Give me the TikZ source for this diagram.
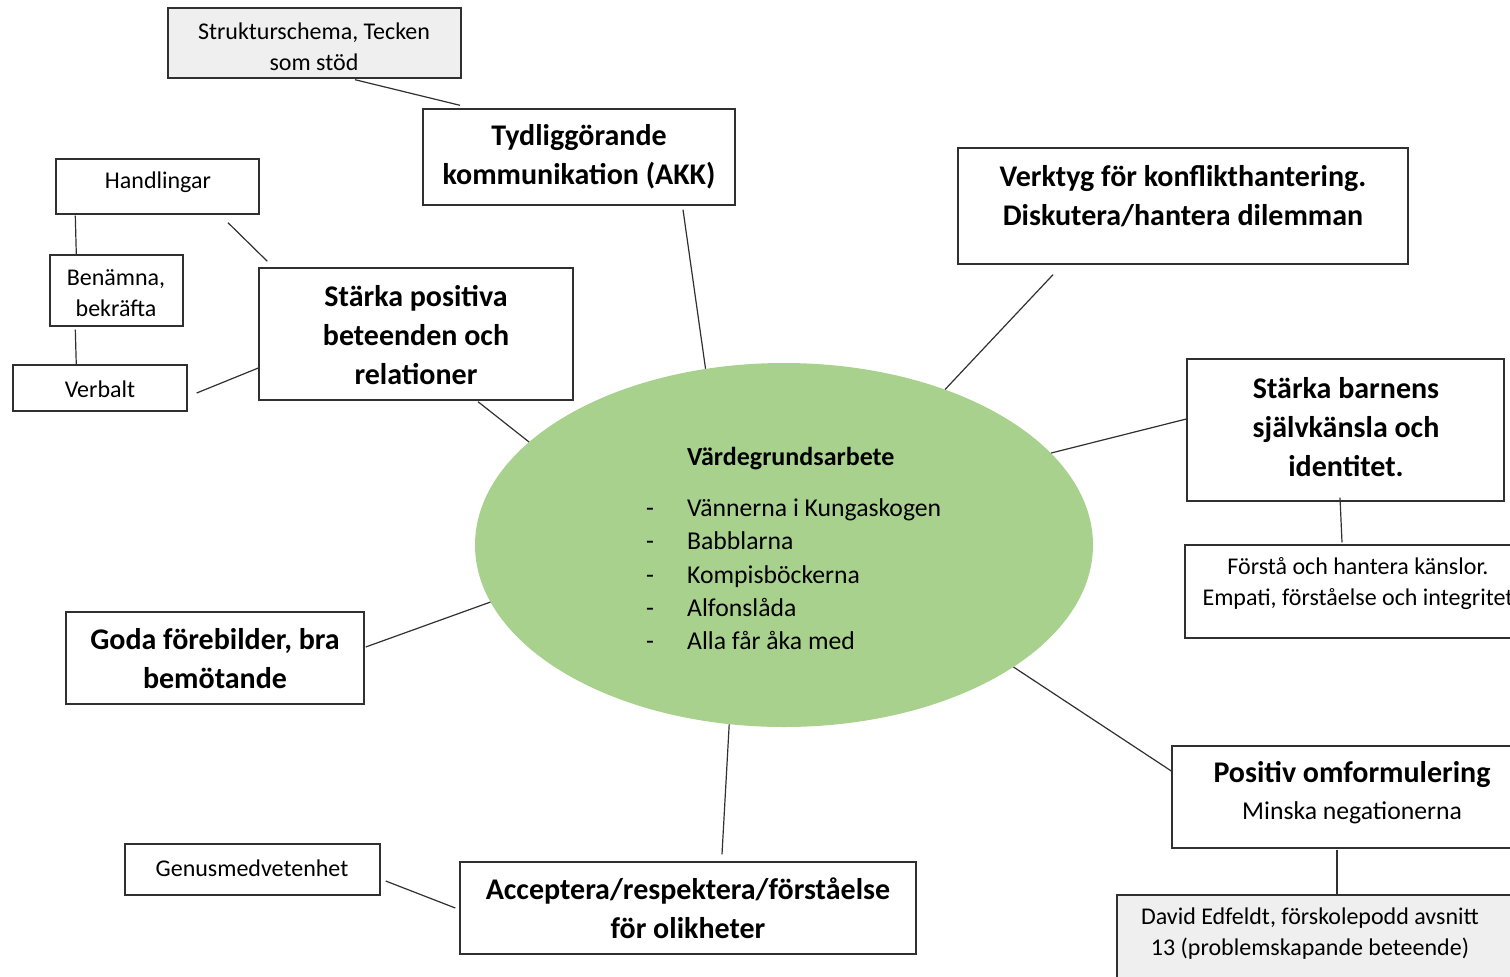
\documentclass[tikz,border=0pt]{standalone}
\usepackage{fontspec}
\setmainfont{Carlito}
\usetikzlibrary{calc,shapes.geometric}
\definecolor{ellgreen}{HTML}{A9D18E}
\definecolor{boxgray}{HTML}{EFEFEF}
\definecolor{edgecol}{HTML}{303030}
\begin{document}
\begin{tikzpicture}[x=1pt,y=-1pt,
  box/.style={draw=edgecol, line width=1.4pt, fill=white, inner sep=0pt},
  graybox/.style={box, fill=boxgray},
  ttl/.style={font=\fontsize{30}{39}\selectfont\bfseries, align=center, inner sep=0pt},
  sml/.style={font=\fontsize{24}{31}\selectfont, align=center, inner sep=0pt},
  conn/.style={draw=edgecol, line width=1.2pt}]
\useasboundingbox (0,0) rectangle (1510,977);
\clip (0,0) rectangle (1510,977);

% central ellipse
\node[ellipse, fill=ellgreen, minimum width=618pt, minimum height=364pt, inner sep=0pt] (ell) at (784,545) {};
\node[inner sep=0pt, anchor=north west] (list) at (646,442) {\fontsize{25.7}{33.2}\selectfont
  \begin{tabular}{@{}p{41pt}@{}l@{}}
  & {\fontsize{26}{33}\selectfont\bfseries Värdegrundsarbete}\\[18pt]
  - & Vännerna i Kungaskogen\\
  - & Babblarna\\
  - & Kompisböckerna\\
  - & Alfonslåda\\
  - & Alla får åka med
  \end{tabular}};

% boxes
\node[graybox, minimum width=293pt, minimum height=70pt] (strk) at (314.5,43) {};
\node[sml] (strkt) at (314,47) {Strukturschema, Tecken\\som stöd};

\node[box, minimum width=312pt, minimum height=96pt] (tyd) at (579,157) {};
\node[ttl] (tydt) at (579,157) {Tydliggörande\\kommunikation (AKK)};

\node[box, minimum width=450pt, minimum height=116pt] (verk) at (1183,206) {};
\node[ttl] (verkt) at (1183,196) {Verktyg för konflikthantering.\\Diskutera/hantera dilemman};

\node[box, minimum width=203pt, minimum height=55pt] (hand) at (157.5,186.5) {};
\node[sml] (handt) at (158,182) {Handlingar};

\node[box, minimum width=133pt, minimum height=71pt] (ben) at (116.5,290.5) {};
\node[sml] (bent) at (116,293) {Benämna,\\bekräfta};

\node[box, minimum width=174pt, minimum height=46pt] (verb) at (100,388) {};
\node[sml] (verbt) at (100,389) {Verbalt};

\node[box, minimum width=314pt, minimum height=132pt] (pos) at (416,334) {};
\node[ttl] (post) at (416,335) {Stärka positiva\\beteenden och\\relationer};

\node[box, minimum width=317pt, minimum height=142pt] (barn) at (1345.5,430) {};
\node[ttl] (barnt) at (1346,427) {Stärka barnens\\självkänsla och\\identitet.};

\node[box, minimum width=346pt, minimum height=93pt] (forst) at (1358,591.5) {};
\node[sml] (forstt) at (1358,584) {Förstå och hantera känslor.\\Empati, förståelse och integritet};

\node[box, minimum width=298pt, minimum height=92pt] (goda) at (215,658) {};
\node[ttl] (godat) at (215,659) {Goda förebilder, bra\\bemötande};

\node[box, minimum width=360pt, minimum height=102pt] (posit) at (1352,797) {};
\node[align=center, inner sep=0pt, font=\fontsize{25.7}{37}\selectfont] (positt) at (1352,793)
  {{\fontsize{30}{37}\selectfont\bfseries Positiv omformulering}\\Minska negationerna};

\node[graybox, minimum width=403pt, minimum height=95pt] (david) at (1318.5,942.5) {};
\node[sml] (davidt) at (1310,934) {David Edfeldt, förskolepodd avsnitt\\13 (problemskapande beteende)};

\node[box, minimum width=255pt, minimum height=51pt] (genus) at (252.5,869.5) {};
\node[sml] (genust) at (252,868) {Genusmedvetenhet};

\node[box, minimum width=456pt, minimum height=92pt] (acc) at (688,908) {};
\node[ttl] (acct) at (688,908) {Acceptera/respektera/förståelse\\för olikheter};

% connectors
\draw[conn] ($(strk.south)+(40.5,1)$) -- ($(tyd.north)+(-119,-3)$);
\draw[conn] ($(tyd.south)+(104,4)$) -- (ell.114);
\draw[conn] ($(verk.south)+(-130,10)$) -- (ell.44);
\draw[conn] ($(hand.south)+(70.5,8)$) -- ($(pos.north west)+(9,-6)$);
\draw[conn] ($(hand.south west)+(20,1)$) -- ($(ben.north west)+(27,0)$);
\draw[conn] ($(ben.south west)+(26,3)$) -- ($(verb.north west)+(64,1)$);
\draw[conn] ($(verb.east)+(9,5)$) -- ($(pos.west)+(0,34)$);
\draw[conn] ($(pos.south)+(62,1)$) -- (ell.158);
\draw[conn] (ell.19) -- ($(barn.west)+(0,-11)$);
\draw[conn] ($(barn.south)+(-5.5,-4)$) -- ($(forst.north)+(-16,-2)$);
\draw[conn] ($(goda.east)+(1,-11)$) -- (ell.191);
\draw[conn] (ell.332) -- ($(posit.west)+(0,-26)$);
\draw[conn] ($(posit.south)+(-15,1)$) -- ($(david.north)+(18.5,0)$);
\draw[conn] (ell.253) -- ($(acc.north)+(34,-7)$);
\draw[conn] ($(genus.east)+(5,11.5)$) -- ($(acc.west)+(-4,0)$);
\end{tikzpicture}
\end{document}
